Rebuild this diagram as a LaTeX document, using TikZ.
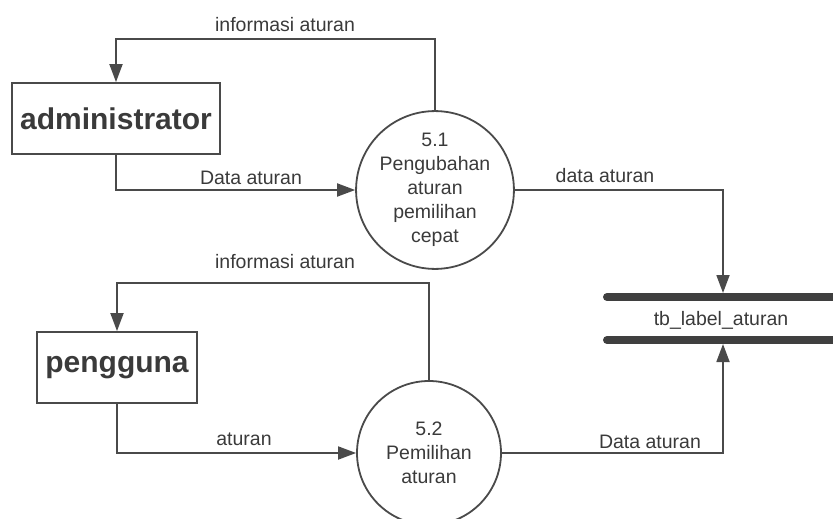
\documentclass[tikz,border=0pt]{standalone}
\usepackage{fontspec}
\setmainfont{Liberation Sans}
\usetikzlibrary{arrows.meta}
\definecolor{ink}{HTML}{4A4A4A}
\definecolor{txt}{HTML}{3A3A3A}
\tikzset{
  entity/.style={draw=ink, line width=1.8pt, rectangle, inner sep=0pt,
    text=txt, font=\fontsize{30}{34}\selectfont\bfseries},
  proc/.style={draw=ink, line width=1.8pt, circle, inner sep=0pt,
    text=txt, align=center, font=\fontsize{19.5}{24}\selectfont},
  flow/.style={draw=ink, line width=1.8pt,
    -{Triangle[length=18pt, width=13pt]}},
  lbl/.style={text=txt, anchor=base, inner sep=0pt,
    font=\fontsize{19.5}{24}\selectfont},
  storeline/.style={draw=ink!85!black, line width=8pt, line cap=round},
}
\begin{document}
\begin{tikzpicture}[x=1pt, y=-1pt]
  \useasboundingbox (0,0) rectangle (833,519);
  \clip (0,0) rectangle (833,519);

  % external entities
  \node[entity, minimum width=208pt, minimum height=71pt] (admin) at (116,118.5) {administrator};
  \node[entity, minimum width=160pt, minimum height=71pt] (user) at (117,367.5) {pengguna};

  % processes
  \node[proc, minimum size=146pt] (p1) at (435,190) {5.1\\Pengubahan\\aturan\\pemilihan\\cepat};
  \node[proc, minimum size=144pt] (p2) at (429,453) {5.2\\Pemilihan\\aturan};

  % data store tb_label_aturan
  \draw[storeline] (607,297) -- (845,297);
  \draw[storeline] (607,340) -- (845,340);
  \node[lbl] (store) at (721,325) {tb\_label\_aturan};
  \coordinate (stTop) at (723,293);
  \coordinate (stBot) at (723,344);

  % routing levels of the return flows
  \coordinate (top1) at (0,39);
  \coordinate (top2) at (0,283);

  % flows
  \draw[flow] (p1.north) -- (p1.north |- top1) -| (admin.north);
  \draw[flow] (admin.south) |- (p1.west);
  \draw[flow] (p1.east) -| (stTop);
  \draw[flow] (p2.north) -- (p2.north |- top2) -| (user.north);
  \draw[flow] (user.south) |- (p2.west);
  \draw[flow] (p2.east) -| (stBot);

  % flow labels
  \node[lbl] (l1) at (285,32) {informasi aturan};
  \node[lbl] (l2) at (251,184) {Data aturan};
  \node[lbl] (l3) at (605,182) {data aturan};
  \node[lbl] (l4) at (285,268) {informasi aturan};
  \node[lbl] (l5) at (244,445) {aturan};
  \node[lbl] (l6) at (650,448) {Data aturan};
\end{tikzpicture}
\end{document}
